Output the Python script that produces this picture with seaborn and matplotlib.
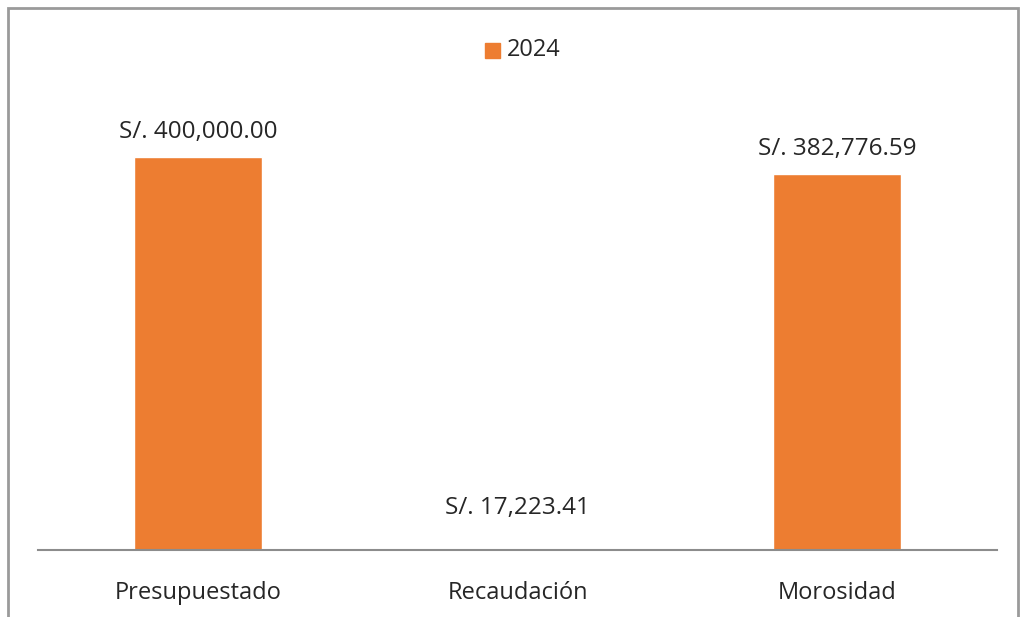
import numpy as np
import pandas as pd
import seaborn as sns
import matplotlib.pyplot as plt
from matplotlib.patches import Rectangle

sns.set_style("white")
plt.rcParams['font.family'] = ['Open Sans', 'DejaVu Sans']

categorias = ["Presupuestado", "Recaudación", "Morosidad"]
montos = [400000.00, 17223.41, 382776.59]
serie = "2024"

df = pd.DataFrame({"categoria": categorias, "monto": montos, "serie": serie})

naranja = "#ED7D31"

f = plt.figure(figsize=(10.21, 6.17), dpi=100)
ax = f.add_axes([38/1021, 67/617, 959/1021, 491/617])

sns.barplot(data=df, x="categoria", y="monto", hue="serie", palette=[naranja],
            width=0.4, ax=ax, legend=False, saturation=1)

# la barra de recaudacion no se ve en el original
ax.patches[1].set_facecolor("none")

for p, v in zip(ax.patches, montos):
    ax.text(p.get_x() + p.get_width()/2, v + 13000, "S/. {:,.2f}".format(v),
            ha="center", va="bottom", fontsize=17.5, color="#262626")

ax.set_xlim(-0.5, 2.5)
ax.set_ylim(0, 500000)
ax.set_yticks([])
ax.set_xlabel("")
ax.set_ylabel("")
ax.tick_params(axis="x", length=0, labelsize=17, colors="#262626", pad=22)
for s in ["top", "left", "right"]:
    ax.spines[s].set_visible(False)
ax.spines["bottom"].set_color("#8c8c8c")
ax.spines["bottom"].set_linewidth(1.5)

# leyenda
f.patches.append(Rectangle((485/1021, 1-58/617), 15/1021, 15/617,
                           transform=f.transFigure, color=naranja))
f.text(507/1021, 1-50/617, serie, fontsize=17, va="center", ha="left", color="#262626")

# borde
f.patches.append(Rectangle((8/1021, -0.05), 1010/1021, 1-8/617+0.05,
                           transform=f.transFigure, fill=False,
                           edgecolor="#9a9a9a", linewidth=2))

f.savefig("out.png", dpi=100)
